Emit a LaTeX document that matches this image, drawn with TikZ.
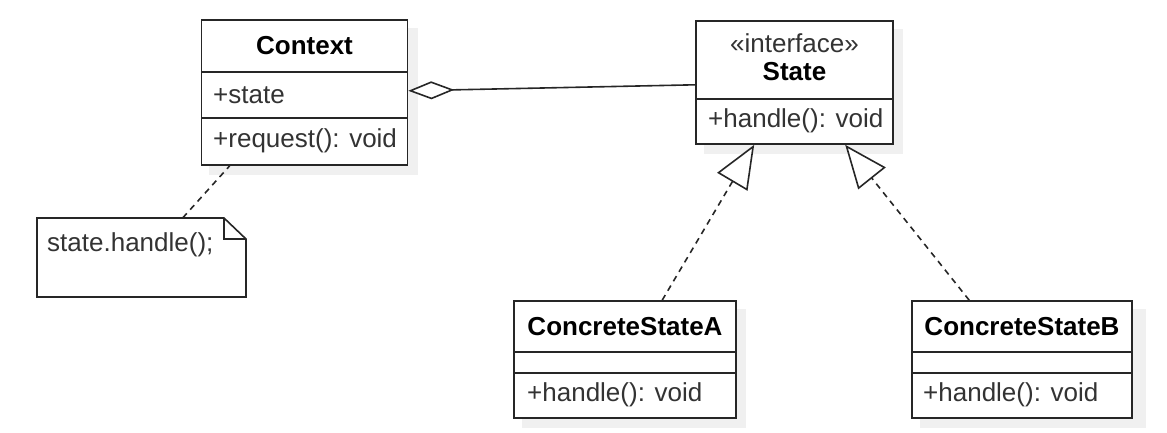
\documentclass[tikz,border=0pt]{standalone}
\usepackage{fontspec}
\setmainfont{Liberation Sans}
\usetikzlibrary{arrows.meta,calc}
\begin{document}
\begin{tikzpicture}[x=1pt,y=-1pt,
  box/.style={draw=black!85, line width=1.6pt, fill=white, inner sep=0pt, rectangle},
  shade/.style={fill=black!6, draw=none},
  divider/.style={draw=black!85, line width=1.6pt},
  txt/.style={font=\fontsize{26}{30}\selectfont, inner sep=0pt, text=black!80},
  ttl/.style={font=\fontsize{26}{30}\selectfont\bfseries, inner sep=0pt, text=black},
  conn/.style={draw=black!85, line width=1.6pt},
  dashconn/.style={draw=black!85, line width=1.6pt, dash pattern=on 6pt off 5pt},
  realize/.style={dashconn, -{Triangle[open, length=43pt, width=35pt, line width=1.6pt, fill=white]}},
  aggr/.style={conn, {Diamond[open, length=46pt, width=18pt, line width=1.6pt, fill=white]}-}
]
\useasboundingbox (0,0) rectangle (1167,433);

% shadows
\fill[shade] (209,28) rectangle (418,175);
\fill[shade] (704,29) rectangle (903,154);
\fill[shade] (522,309) rectangle (746,428);
\fill[shade] (920,309) rectangle (1146,428);

% Context
\node[box, minimum width=206pt, minimum height=145pt] (context) at (304.5,92.5) {};
\draw[divider] (201,72) -- (408,72);
\draw[divider] (201,118) -- (408,118);
\node[ttl] (contextT) at (304.5,46) {Context};
\node[txt, anchor=west] (contextA) at (213,95) {+state};
\node[txt, anchor=west] (contextM) at (213,141) {+request(): void};

% State
\node[box, minimum width=197pt, minimum height=123pt] (state) at (794.5,82.5) {};
\draw[divider] (696,99) -- (893,99);
\node[txt] (stateS) at (794.5,43) {«interface»};
\node[ttl] (stateT) at (794.5,72) {State};
\node[txt, anchor=west] (stateM) at (708,121) {+handle(): void};

% Note
\node[inner sep=0pt, minimum width=209pt, minimum height=79pt] (note) at (141.5,257.5) {};
\draw[box, fill=white] (37,218) -- (224,218) -- (246,239) -- (246,297) -- (37,297) -- cycle;
\draw[divider, line join=miter] (224,218) -- (224,239) -- (246,239);
\node[txt, anchor=west] (noteT) at (47,245) {state.handle();};

% ConcreteStateA
\node[box, minimum width=222pt, minimum height=117pt] (csa) at (625,359.5) {};
\draw[divider] (514,352) -- (736,352);
\draw[divider] (514,373) -- (736,373);
\node[ttl] (csaT) at (625,327) {ConcreteStateA};
\node[txt, anchor=west] (csaM) at (527,395) {+handle(): void};

% ConcreteStateB
\node[box, minimum width=220pt, minimum height=117pt] (csb) at (1022,359.5) {};
\draw[divider] (912,352) -- (1132,352);
\draw[divider] (912,373) -- (1132,373);
\node[ttl] (csbT) at (1022,327) {ConcreteStateB};
\node[txt, anchor=west] (csbM) at (923,395) {+handle(): void};

% connectors
\draw[aggr] ($(context.south east)+(0,-75)$) -- ($(state.south west)+(0,-60)$);
\draw[dashconn] ($(note.north west)+(146,0)$) -- ($(context.south west)+(29,0)$);
\draw[realize] ($(csa.north west)+(149,0)$) -- ($(state.south west)+(59,0)$);
\draw[realize] ($(csb.north west)+(58,0)$) -- ($(state.south west)+(150,0)$);
\end{tikzpicture}
\end{document}
